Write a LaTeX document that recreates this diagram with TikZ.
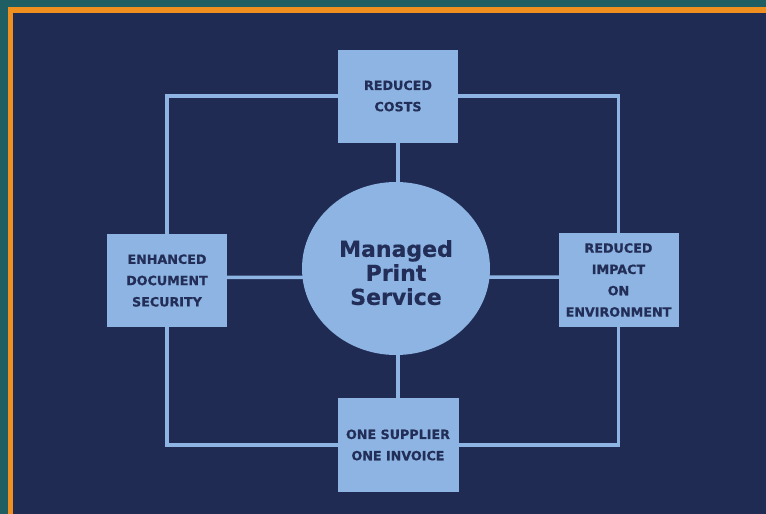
\documentclass[tikz,border=0pt]{standalone}
\usepackage{fontspec}
\setmainfont{DejaVu Sans}[BoldFeatures={FakeBold=0.6}]
\usepackage{tikz}
\usetikzlibrary{shapes.geometric, backgrounds, positioning}

\definecolor{navy}{HTML}{1F2B52}
\definecolor{paleblue}{HTML}{8DB4E2}
\definecolor{inkblue}{HTML}{222E57}
\definecolor{frameteal}{HTML}{1F5E62}
\definecolor{frameorange}{HTML}{EF8F1F}

\tikzset{
  benefit/.style={rectangle, fill=paleblue, text=inkblue, align=center,
    minimum width=120pt, minimum height=93pt, inner sep=0pt,
    font=\fontsize{12.7}{21.3}\selectfont\bfseries},
  hub/.style={ellipse, fill=paleblue, text=inkblue, align=center,
    minimum width=188pt, minimum height=173pt, inner sep=0pt,
    font=\fontsize{22}{24}\selectfont\bfseries},
  link/.style={paleblue, line width=3.6pt}
}

\begin{document}
\begin{tikzpicture}[x=1pt, y=-1pt]
  % Frame
  \begin{scope}[on background layer]
    \fill[frameteal] (0,0) rectangle (766,514);
    \fill[frameorange] (8,7) rectangle (766,514);
    \fill[navy] (13,13) rectangle (766,514);
  \end{scope}
  % Hub and benefits
  \node[hub, text height=73pt] (mps) at (396,268.5) {Managed\\Print\\Service};
  \node[benefit] (costs) at (398,96) {REDUCED\\COSTS};
  \node[benefit] (security) at (167,280.5) {ENHANCED\\DOCUMENT\\SECURITY};
  \node[benefit, minimum height=94pt] (impact) at (618.5,280) {REDUCED\\IMPACT\\ON\\ENVIRONMENT};
  \node[benefit, minimum width=121pt, minimum height=94pt] (supplier) at (398,445) {ONE SUPPLIER\\ONE INVOICE};
  % Links
  \begin{scope}[on background layer]
    \draw[link] (costs.center) -| (security.center) |- (supplier.center)
      -| (impact.center) |- (costs.center);
    \draw[link] (costs) -- (supplier);
    \draw[link] ([yshift=3pt]security.center) -- ([yshift=3pt]impact.center);
  \end{scope}
\end{tikzpicture}
\end{document}
